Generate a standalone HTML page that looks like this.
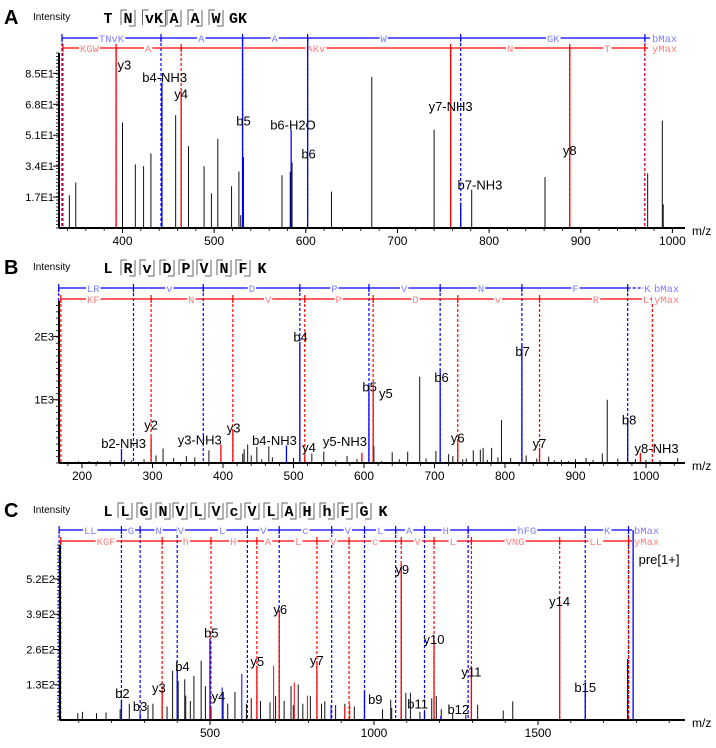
<!DOCTYPE html>
<html><head><meta charset="utf-8"><style>
html,body{margin:0;padding:0;background:#fff;}
svg{display:block;font-family:"Liberation Sans",sans-serif;}
</style></head><body>
<svg id="chart" width="716" height="748" viewBox="0 0 716 748" xmlns="http://www.w3.org/2000/svg"></svg>
<script>
// ---------- Panel A data ----------
const aXTicks=[400,500,600,700,800,900,1000];
const aYTicks=[17,34,51,68,85];
const aYTickLabels=["1.7E1","3.4E1","5.1E1","6.8E1","8.5E1"];
const aSeq=["T","N","vK","A","A","W","GK"];
const aBTicks=[334,442,531,602,769,970];
const aBLabels=["TNvK","A","A","W","GK"];
const aBLabelMz=[388,486,566,685,870];
const aYLTicks=[335,393,464,758,888,970];
const aYLabels=["KGW","A","AKv","N","T"];
const aYLabelMz=[364,428,611,823,929];
const aPeakMz=[342,349,400,414,423,431,458,472,489,497,504,519,527,529,532,574,583,585,628,672,740,781,861,973,989,990];
const aPeakInt=[18,25,58,35,34,41,62,45,34,19,49,23,31,7,39,29,31,36,20,83,54,21,28,30,59,13];
const aAnnMz=[393,443,464,531,584,602,758,769,888];
const aAnnInt=[120,80,75,120,54,120,120,14,120];
const aAnnColor=["r","b","r","b","b","b","r","b","r"];
const aAnnLabel=["y3","b4-NH3","y4","b5","b6-H2O","b6","y7-NH3","b7-NH3","y8"];
const aAnnLabMz=[402,446,464,532,586,603,758,790,888];
const aAnnLabInt=[90,83,74,59,57,41,67,24,43];

// ---------- Panel B data ----------
const bXTicks=[200,300,400,500,600,700,800,900,1000];
const bYTicks=[1000,2000];
const bYTickLabels=["1E3","2E3"];
const bSeq=["L","R","v","D","P","V","N","F","K"];
const bBTicks=[167,273,372,509,607,708,824,974];
const bBLabels=["LR","v","D","P","V","N","F","K"];
const bBLabelMz=[216,324,441,558,657,766,900,1002];
const bYLTicks=[170,298,414,516,613,733,849,1009];
const bYLabels=["KF","N","V","P","D","v","R","L"];
const bYLabelMz=[216,355,464,564,673,790,929,1000];
const bPeakMz=[679,795,945,1065,435,448,465,315,614,781,769,824,526,543,640,702,720,755,765,830,862,900,915,938,960,1045,222,240,260,288,305,330,348,360,380,428,470,500,576,590,650,662,688,726,740,808,845,880,985,1000,1020,180,195,210,270,430,440,455,560,625,745,775,790,870,890,925];
const bPeakInt=[1364,677,1000,303,293,255,260,229,266,239,239,590,150,180,170,190,140,200,210,120,100,60,80,150,70,80,30,40,50,60,120,80,110,90,200,150,90,80,110,60,60,180,70,110,60,80,70,50,60,50,40,20,25,30,40,220,120,60,40,30,70,50,90,40,30,50];
const bAnnMz=[256,298,397,414,490,509,516,597,607,613,708,733,824,849,974,992];
const bAnnInt=[223,410,293,532,277,1915,100,160,1223,1197,1463,346,1888,239,718,160];
const bAnnColor=["b","r","r","r","b","b","r","r","b","r","b","r","b","r","b","r"];
const bAnnLabel=["b2-NH3","y2","y3-NH3","y3","b4-NH3","b4","y4","y5-NH3","b5","y5","b6","y6","b7","y7","b8","y8-NH3"];
const bAnnLabMz=[259,298,367,415,473,510,522,573,608,631,710,733,825,849,976,1015];
const bAnnLabInt=[319,612,372,558,362,1995,250,346,1207,1106,1356,399,1766,319,686,239];

// ---------- Panel C data ----------
const cXTicks=[500,1000,1500];
const cYTicks=[130,260,390,520];
const cYTickLabels=["1.3E2","2.6E2","3.9E2","5.2E2"];
const cSeq=["L","L","G","N","V","L","V","c","V","L","A","H","h","F","G","K"];
const cBTicks=[40,230,287,400,614,711,871,971,1066,1154,1287,1644,1776];
const cBLabels=["LL","G","N","V","L","V","c","V","L","A","H","hFG","K"];
const cBLabelMz=[135,259,343,411,537,663,791,920,1019,1107,1219,1466,1711];
const cYLTicks=[45,354,503,643,826,924,1083,1183,1297,1566,1776];
const cYLabels=["KGF","h","H","A","L","V","c","V","L","VNG","LL"];
const cYLabelMz=[183,426,571,677,769,876,1004,1133,1240,1430,1676];
const cPeakMz=[1773,386,451,473,423,403,486,576,700,747,769,806,850,1051,1423,1316,1111,1176,1190,1394,97,111,154,183,226,254,311,326,369,426,440,540,554,611,626,654,683,726,754,783,840,883,911,940,1026,1054,1083,1097,1140,1205,1240,1280];
const cPeakInt=[225,181,163,219,150,144,125,103,88,125,131,88,69,75,69,56,100,80,88,35,25,30,25,28,40,60,55,60,50,90,70,70,60,60,80,70,65,70,55,60,60,55,60,50,40,45,50,100,30,40,25,20];
const cExtraMz=[694,757,797,626,926,911,597,537,869];
const cExtraInt=[200,138,90,80,60,50,170,120,55];
const cExtraColor=["r","r","r","r","r","r","b","b","b"];
const cAnnMz=[230,287,354,400,500,503,643,711,826,971,1083,1154,1183,1204,1297,1566,1644,1790];
const cAnnInt=[75,25,112,188,300,44,200,400,212,106,575,30,294,15,200,430,120,900];
const cAnnColor=["b","b","r","b","b","r","r","r","r","b","r","b","r","b","r","r","b","b"];
const cAnnLabel=["b2","b3","y3","b4","b5","y4","y5","y6","y7","b9","y9","b11","y10","b12","y11","y14","b15","pre[1+]"];
const cAnnLabMz=[233,287,344,416,504,526,644,714,826,1004,1086,1133,1183,1257,1297,1566,1644,1869];
const cAnnLabInt=[100,52,119,200,322,88,218,409,222,78,556,60,298,40,179,438,121,594];

const svg=document.getElementById('chart');
const NS='http://www.w3.org/2000/svg';
function mk(tag,attrs,parent){const e=document.createElementNS(NS,tag);for(const k in attrs)e.setAttribute(k,attrs[k]);(parent||svg).appendChild(e);return e;}
const COL={b:'#0000ff',r:'#ff0000'};
const LCOL={b:'#8080ff',r:'#ff8080'};

function drawPanel(p){
  const g=mk('g',{});
  
  
  const X=m=>p.x0+(m-p.m0)*p.sx;
  const Y=v=>p.base-v*p.sy;
  const t=mk('text',{x:4,y:p.hy+7,'font-size':20,'font-weight':'bold'},g);t.textContent=p.id;
  
  const it=mk('text',{x:33,y:p.hy+3,'font-size':10},g);it.textContent='Intensity';
  
  const sg=mk('g',{},g);
  
  p.seq.forEach((s,i)=>{
    const x=p.seqX[i];
    const tx=mk('text',{x:x,y:p.hy+6,'font-size':15,'font-weight':'bold','font-family':'"Liberation Mono",monospace','text-anchor':'middle'},sg);tx.textContent=s;
    if(i>0&&i<p.seq.length-1){
      const w=s.length*9+3;
      mk('path',{d:`M${x-w/2-1},${p.hy+8} V${p.hy-7} H${x-w/2+5}`,stroke:'#666',fill:'none','stroke-width':1},sg);
      mk('path',{d:`M${x+w/2+1},${p.hy-7} V${p.hy+9} H${x+w/2-5}`,stroke:'#666',fill:'none','stroke-width':1},sg);
    }
  });
  const lad=(ticks,labels,lmz,y,c,maxLabel,dashLast,name)=>{
    const lg=mk('g',{},g);
    
    const x1=X(ticks[0]),xe=p.ladEnd;
    const xl=X(ticks[ticks.length-1]);
    mk('line',{x1:x1,x2:dashLast?xl:xe,y1:y,y2:y,stroke:COL[c],'stroke-width':1.2},lg);
    if(dashLast)mk('line',{x1:xl,x2:xe,y1:y,y2:y,stroke:COL[c],'stroke-width':1.2,'stroke-dasharray':'3,2'},lg);
    ticks.forEach(m=>{
      const x=X(m);
      mk('line',{x1:x,x2:x,y1:y-4,y2:y+4,stroke:COL[c],'stroke-width':1.2},lg);
      mk('line',{x1:x,x2:x,y1:y,y2:p.base,stroke:COL[c],'stroke-width':1.2,'stroke-dasharray':'3,2'},lg);
    });
    labels.forEach((l,i)=>{
      const x=X(lmz[i]);
      const w=l.length*6.3+2;
      mk('rect',{x:x-w/2,y:y-4,width:w,height:8,fill:'#fff'},lg);
      const tt=mk('text',{x:x,y:y+4,'font-size':10.5,'font-family':'"Liberation Mono",monospace','text-anchor':'middle',fill:LCOL[c]},lg);tt.textContent=l;
    });
    mk('rect',{x:xe,y:y-4,width:34,height:8,fill:'#fff'},lg);
    const mt=mk('text',{x:xe+2,y:y+4,'font-size':10.5,'font-family':'"Liberation Mono",monospace',fill:LCOL[c]},lg);mt.textContent=maxLabel;
  };
  lad(p.bT,p.bL,p.bLm,p.bY,'b','bMax',p.bDash,'b-ion-ladder');
  lad(p.yT,p.yL,p.yLm,p.yY,'r','yMax',p.yDash,'y-ion-ladder');
  const pg=mk('g',{},g);
  
  p.pm.forEach((m,i)=>{
    const x=X(m);if(x<p.axL||x>p.axR)return;
    const l=mk('line',{x1:x,x2:x,y1:p.base,y2:Math.max(Y(p.pi[i]),p.top),stroke:'#111','stroke-width':1},pg);
    
  });
  if(p.em)p.em.forEach((m,i)=>{
    const x=X(m);
    const l=mk('line',{x1:x,x2:x,y1:p.base,y2:Y(p.ei[i]),stroke:COL[p.ec[i]],'stroke-width':1},pg);
    
  });
  const ag=mk('g',{},g);
  
  p.am.forEach((m,i)=>{
    const c=p.ac[i];const x=X(m);
    const topLim=c==='b'?p.bY:p.yY;
    const l=mk('line',{x1:x,x2:x,y1:p.base,y2:Math.max(Y(p.ai[i]),topLim),stroke:COL[c],'stroke-width':1.3},ag);
    
    const tt=mk('text',{x:X(p.alm[i]),y:Y(p.ali[i])+5,'font-size':13,'text-anchor':'middle',fill:'#000'},ag);
    tt.textContent=p.al[i];
    
  });
  const ax=mk('g',{},g);
  
  mk('line',{x1:p.axL,x2:p.axR,y1:p.base,y2:p.base,stroke:'#000','stroke-width':2},ax);
  mk('line',{x1:p.axL,x2:p.axL,y1:p.base,y2:p.top,stroke:'#000','stroke-width':2},ax);
  for(let y=p.base;y>=p.top;y-=p.minorY){mk('line',{x1:p.axL-3,x2:p.axL,y1:y,y2:y,stroke:'#000','stroke-width':0.8},ax);}
  p.yt.forEach((v,i)=>{
    const y=Y(v);
    mk('line',{x1:p.axL-6,x2:p.axL,y1:y,y2:y,stroke:'#000','stroke-width':1},ax);
    const tt=mk('text',{x:p.axL-5,y:y+4,'font-size':11,'text-anchor':'end'},ax);tt.textContent=p.ytl[i];
    
  });
  for(let m=p.minorStart;X(m)<=p.axR;m+=p.minorX){
    const x=X(m);if(x<p.axL)continue;
    mk('line',{x1:x,x2:x,y1:p.base,y2:p.base+3,stroke:'#000','stroke-width':0.8},ax);
  }
  p.xt.forEach(v=>{
    const x=X(v);
    mk('line',{x1:x,x2:x,y1:p.base,y2:p.base+5,stroke:'#000','stroke-width':1},ax);
    const tt=mk('text',{x:x,y:p.base+17,'font-size':12,'text-anchor':'middle'},ax);tt.textContent=v;
    
  });
  const mz=mk('text',{x:692,y:p.base+7,'font-size':12},ax);mz.textContent='m/z';
  
}

drawPanel({id:'A',hy:17,seq:aSeq,seqX:[108,128,154,174,195,216,238],
  x0:122.5,m0:400,sx:0.9165,base:228,sy:1.819,top:53,axL:59,axR:685,
  bT:aBTicks,bL:aBLabels,bLm:aBLabelMz,bY:38,bDash:false,
  yT:aYLTicks,yL:aYLabels,yLm:aYLabelMz,yY:48,yDash:true,
  pm:aPeakMz,pi:aPeakInt,am:aAnnMz,ai:aAnnInt,ac:aAnnColor,al:aAnnLabel,alm:aAnnLabMz,ali:aAnnLabInt,
  yt:aYTicks,ytl:aYTickLabels,xt:aXTicks,minorX:20,minorStart:340,minorY:3.5,ladEnd:650});
drawPanel({id:'B',hy:267,seq:bSeq,seqX:[108,128,147,167,186,204,224,243,262],
  x0:82,m0:200,sx:0.705,base:463,sy:0.0633,top:301,axL:59,axR:685,
  bT:bBTicks,bL:bBLabels,bLm:bBLabelMz,bY:288,bDash:true,
  yT:bYLTicks,yL:bYLabels,yLm:bYLabelMz,yY:299,yDash:false,
  pm:bPeakMz,pi:bPeakInt,am:bAnnMz,ai:bAnnInt,ac:bAnnColor,al:bAnnLabel,alm:bAnnLabMz,ali:bAnnLabInt,
  yt:bYTicks,ytl:bYTickLabels,xt:bXTicks,minorX:20,minorStart:180,minorY:6.3,ladEnd:652});
drawPanel({id:'C',hy:510,seq:cSeq,seqX:[108,125,144,163,180,198,216,234,252,271,289,307,327,345,364,383],
  x0:374,m0:1000,sx:0.328,base:720,sy:0.2712,top:545,axL:60,axR:685,
  bT:cBTicks,bL:cBLabels,bLm:cBLabelMz,bY:530,bDash:false,
  yT:cYLTicks,yL:cYLabels,yLm:cYLabelMz,yY:541,yDash:false,
  pm:cPeakMz,pi:cPeakInt,em:cExtraMz,ei:cExtraInt,ec:cExtraColor,am:cAnnMz,ai:cAnnInt,ac:cAnnColor,al:cAnnLabel,alm:cAnnLabMz,ali:cAnnLabInt,
  yt:cYTicks,ytl:cYTickLabels,xt:cXTicks,minorX:100,minorStart:100,minorY:3.5,ladEnd:632});
</script>
</body></html>
